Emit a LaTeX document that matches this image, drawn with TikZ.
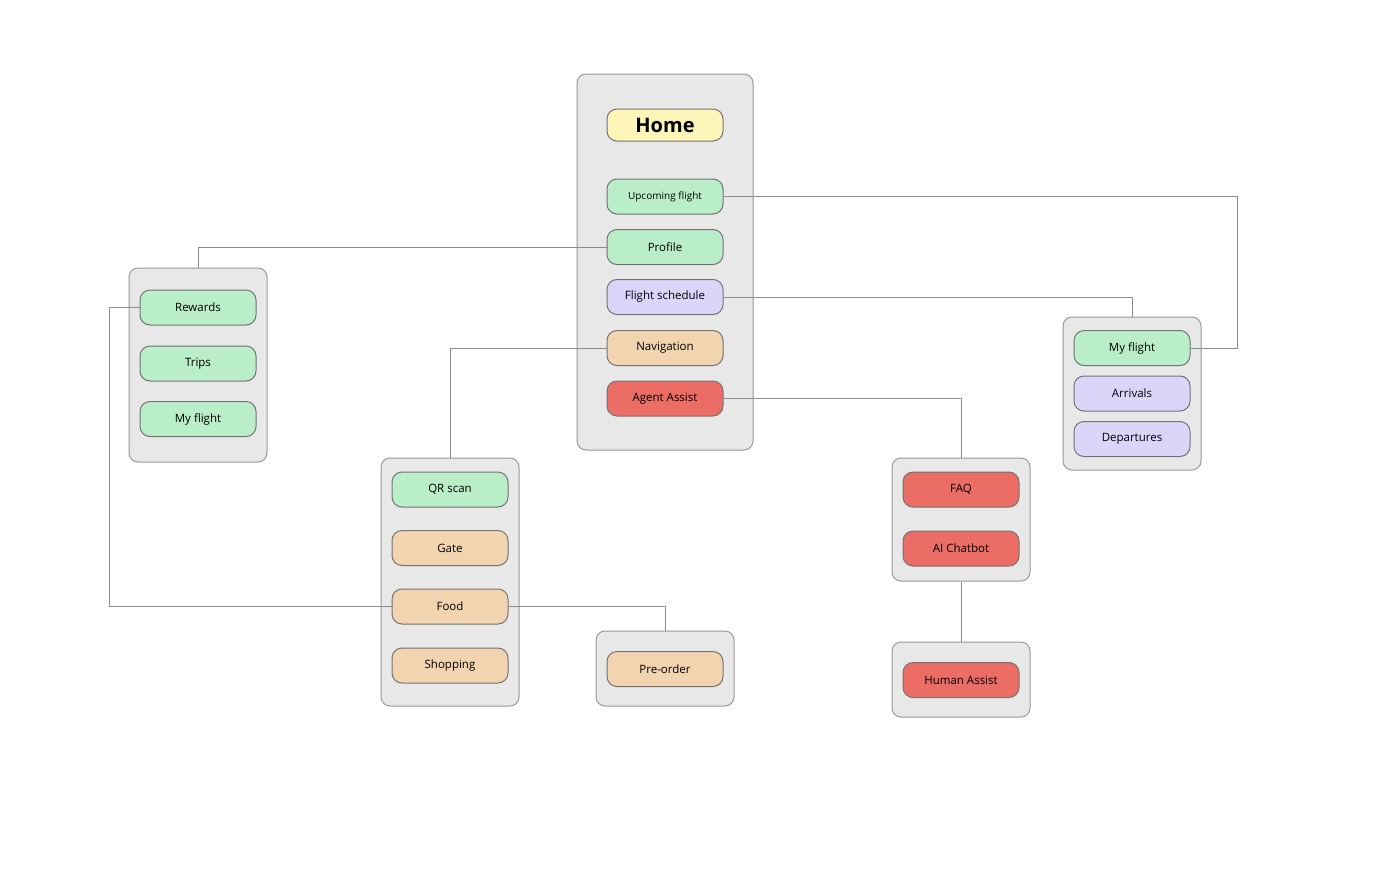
\documentclass[tikz,border=0pt]{standalone}
\usepackage{fontspec}
\setmainfont{Open Sans}
\begin{document}
\begin{tikzpicture}[x=1pt,y=-1pt,
  box/.style={draw=black!40,fill=black!9,rounded corners=9pt,line width=1pt},
  it/.style={draw=black!55,line width=1pt,rounded corners=10pt,minimum width=116pt,minimum height=35pt,inner sep=0pt,font=\fontsize{11.5}{13}\selectfont},
  gr/.style={it,fill=green!30!white!90!cyan},
  lv/.style={it,fill={rgb,255:red,218;green,214;blue,250}},
  pc/.style={it,fill={rgb,255:red,243;green,212;blue,176}},
  rd/.style={it,fill={rgb,255:red,236;green,108;blue,102}},
  ln/.style={draw=black!45,line width=1pt}]
\useasboundingbox (0,0) rectangle (1380,878);
\definecolor{grn}{RGB}{185,238,200}
\tikzset{gr/.style={it,fill=grn}}
% containers
\node[box,minimum width=176pt,minimum height=376pt] (cH) at (665,262) {};
\node[box,minimum width=138pt,minimum height=194pt] (cL) at (198,365) {};
\node[box,minimum width=138pt,minimum height=248pt] (cN) at (450,582) {};
\node[box,minimum width=138pt,minimum height=75pt] (cP) at (665,668.5) {};
\node[box,minimum width=138pt,minimum height=123pt] (cF) at (961,519.5) {};
\node[box,minimum width=138pt,minimum height=75pt] (cU) at (961,679.5) {};
\node[box,minimum width=138pt,minimum height=153pt] (cR) at (1132,393.5) {};
% items
\node[it,fill={rgb,255:red,253;green,246;blue,184},minimum height=32pt,font=\fontsize{20}{24}\selectfont\bfseries] (home) at (665,125) {Home};
\node[gr,font=\fontsize{10}{12}\selectfont] (up) at (665,196.5) {Upcoming flight};
\node[gr] (prof) at (665,247) {Profile};
\node[lv] (fs) at (665,297) {Flight schedule};
\node[pc] (nav) at (665,348) {Navigation};
\node[rd] (ag) at (665,398.5) {Agent Assist};
\node[gr] (rew) at (198,307.5) {Rewards};
\node[gr] (trips) at (198,363.5) {Trips};
\node[gr] (mf1) at (198,419) {My flight};
\node[gr] (qr) at (450,489.5) {QR scan};
\node[pc] (gate) at (450,548) {Gate};
\node[pc] (food) at (450,606.5) {Food};
\node[pc] (shop) at (450,665.5) {Shopping};
\node[pc] (pre) at (665,669) {Pre-order};
\node[rd] (faq) at (961,489.5) {FAQ};
\node[rd] (ai) at (961,548.5) {AI Chatbot};
\node[rd] (hum) at (961,680) {Human Assist};
\node[gr] (mf2) at (1132,348) {My flight};
\node[lv] (arr) at (1132,393.5) {Arrivals};
\node[lv] (dep) at (1132,439) {Departures};
% connectors
\coordinate (k1) at (1237,196.5);
\draw[ln] (up.east) -- (k1) |- (mf2.east);
\draw[ln] (prof.west) -| (cL.north);
\draw[ln] (fs.east) -| (cR.north);
\draw[ln] (nav.west) -| (cN.north);
\draw[ln] (ag.east) -| (cF.north);
\coordinate (k2) at (109,307.5);
\draw[ln] (rew.west) -- (k2) |- (food.west);
\draw[ln] (food.east) -| (cP.north);
\draw[ln] (cF.south) -- (cU.north);
\end{tikzpicture}
\end{document}
